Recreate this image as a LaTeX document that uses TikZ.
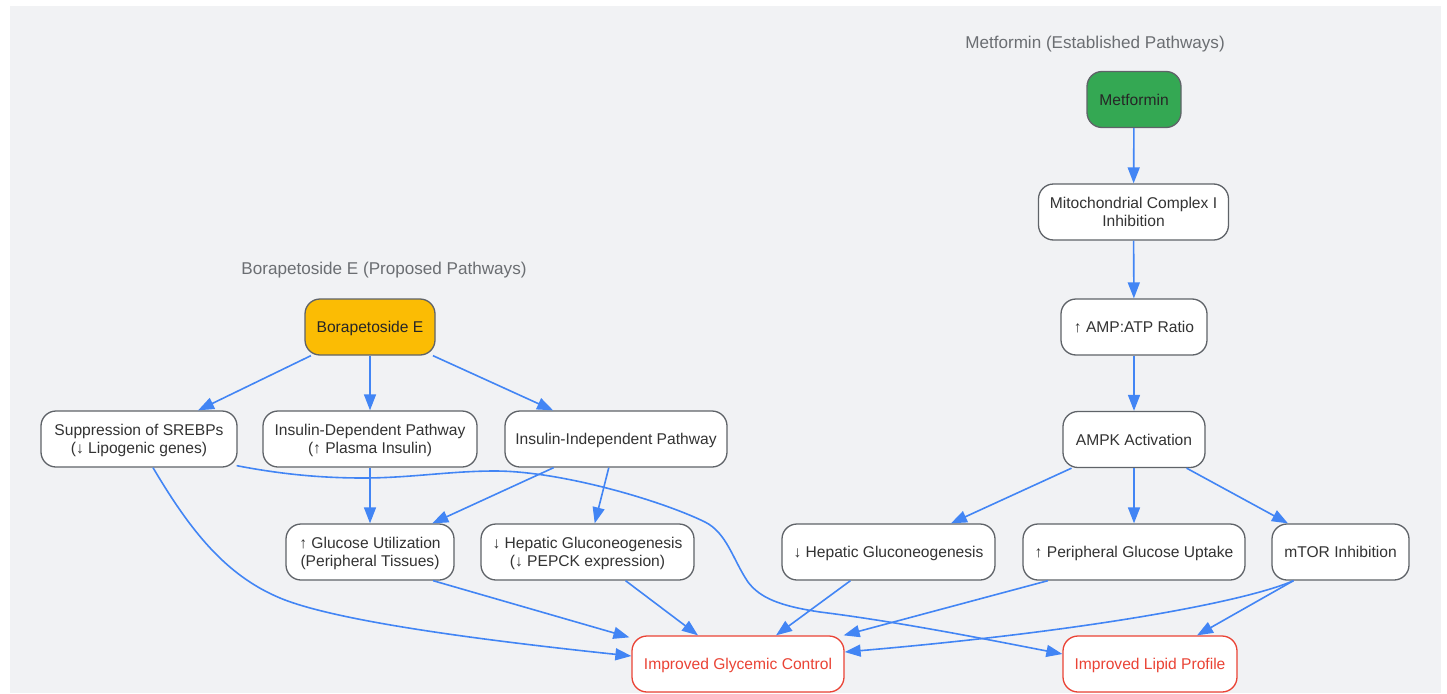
\documentclass[tikz,border=0pt]{standalone}
\usepackage{fontspec}
\setmainfont{Liberation Sans}
\usetikzlibrary{arrows.meta,calc}
\definecolor{bgc}{HTML}{F1F2F4}
\definecolor{edgec}{HTML}{4285F4}
\definecolor{bordc}{HTML}{5F6368}
\definecolor{txtc}{HTML}{333333}
\definecolor{redc}{HTML}{EA4335}
\definecolor{greenc}{HTML}{34A853}
\definecolor{amberc}{HTML}{FBBC04}
\definecolor{titlec}{HTML}{6B6E72}
\newcommand{\stl}{\rule[-3.4pt]{0pt}{18pt}}
\tikzset{
  box/.style={draw=bordc, line width=1.3pt, rounded corners=15pt, fill=white,
    minimum height=56pt, inner sep=0pt, align=center, text=txtc,
    font=\fontsize{15.6}{18.7}\selectfont},
  outbox/.style={box, draw=redc, text=redc},
  arr/.style={draw=edgec, line width=1.6pt, -{Triangle[length=16pt,width=12pt]}},
  ttl/.style={text=titlec, inner sep=0pt, font=\fontsize{17.1}{20}\selectfont}
}
\begin{document}
\begin{tikzpicture}[x=1pt,y=-1pt]
\useasboundingbox (0,0) rectangle (1447,693);
\fill[bgc] (10,6) rectangle (1441,693);

% titles
\node[ttl] (t1) at (384,270.5) {Borapetoside E (Proposed Pathways)};
\node[ttl] (t2) at (1095,44) {Metformin (Established Pathways)};

% Metformin side
\node[box, fill=greenc, minimum width=94pt, text=black!85] (met) at (1134,99.5) {\stl Metformin};
\node[box, minimum width=190pt] (mito) at (1133.5,212) {\stl Mitochondrial Complex I\\\stl Inhibition};
\node[box, minimum width=146pt] (amp) at (1134,327) {\stl ↑ AMP:ATP Ratio};
\node[box, minimum width=142pt] (ampk) at (1134,439.5) {\stl AMPK Activation};
\node[box, minimum width=213pt] (hep2) at (888.5,552) {\stl ↓ Hepatic Gluconeogenesis};
\node[box, minimum width=222pt] (per) at (1134,552) {\stl ↑ Peripheral Glucose Uptake};
\node[box, minimum width=137pt] (mtor) at (1340.5,552) {\stl mTOR Inhibition};

% outcomes
\node[outbox, minimum width=212pt] (gly) at (738,664) {\stl Improved Glycemic Control};
\node[outbox, minimum width=174pt] (lip) at (1150,664) {\stl Improved Lipid Profile};

% Borapetoside side
\node[box, fill=amberc, minimum width=130pt, text=black!85] (bor) at (370,327) {\stl Borapetoside E};
\node[box, minimum width=196pt] (sre) at (139,439) {\stl Suppression of SREBPs\\\stl (↓ Lipogenic genes)};
\node[box, minimum width=214pt] (idep) at (370,439) {\stl Insulin-Dependent Pathway\\\stl (↑ Plasma Insulin)};
\node[box, minimum width=222pt] (iind) at (616,439) {\stl Insulin-Independent Pathway};
\node[box, minimum width=168pt] (gu) at (370,552) {\stl ↑ Glucose Utilization\\\stl (Peripheral Tissues)};
\node[box, minimum width=213pt] (hep1) at (587.5,552) {\stl ↓ Hepatic Gluconeogenesis\\\stl (↓ PEPCK expression)};

% Metformin edges
\draw[arr] (met) -- (mito);
\draw[arr] (mito) -- (amp);
\draw[arr] (amp) -- (ampk);
\draw[arr] (ampk) -- (hep2);
\draw[arr] (ampk) -- (per);
\draw[arr] (ampk) -- (mtor);
\draw[arr] ([xshift=-38pt]hep2.south) -- ([xshift=38pt]gly.north);
\draw[arr] ([xshift=-86pt]per.south) -- ([xshift=-1pt]gly.north east);
\draw[arr] ([xshift=-47pt]mtor.south) .. controls (1250,600) and (1100,630) .. ([yshift=12pt]gly.east);
\draw[arr] ([xshift=-47pt]mtor.south) -- ([xshift=47pt]lip.north);

% Borapetoside edges
\draw[arr] (bor) -- (sre);
\draw[arr] (bor) -- (idep);
\draw[arr] (bor) -- (iind);
\draw[arr] (idep) -- (gu);
\draw[arr] (iind) -- (gu);
\draw[arr] (iind) -- (hep1);
\draw[arr] ([xshift=63pt]gu.south) -- ([xshift=-2pt,yshift=-2pt]gly.north west);
\draw[arr] ([xshift=38pt]hep1.south) -- ([xshift=-40pt]gly.north);
\draw[arr] ([xshift=14pt]sre.south) .. controls (190,530) and (225,575) .. (280,598)
  .. controls (335,621) and (480,640) .. ([yshift=8pt]gly.west);
\draw[arr] ([xshift=-1pt,yshift=2pt]sre.south east) .. controls (280,474) and (320,478) .. (363,478)
  .. controls (410,478) and (450,471) .. (495,471)
  .. controls (560,471) and (660,500) .. (705,522)
  .. controls (727,533) and (733,560) .. (748,582)
  .. controls (760,598) and (780,606) .. (820,612)
  .. controls (900,622) and (990,640) .. ([yshift=10pt]lip.west);
\end{tikzpicture}
\end{document}
